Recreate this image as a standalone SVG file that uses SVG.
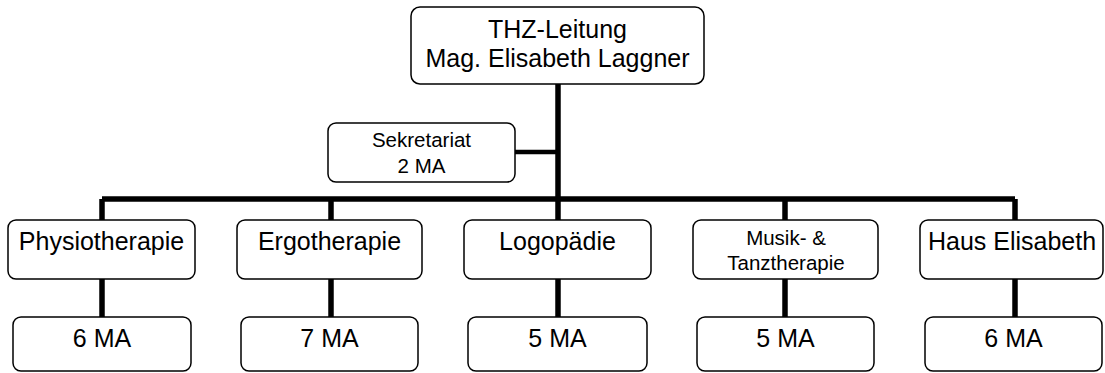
<svg xmlns="http://www.w3.org/2000/svg" width="1105" height="373" viewBox="0 0 1105 373">
<style>
.box{fill:#fff;stroke:#000;stroke-width:1.5}
.t{font-family:"Liberation Sans",Arial,sans-serif;font-size:25px;fill:#000;text-anchor:middle}
.s{font-size:20.5px}
.c{stroke:#000;stroke-width:5.5;fill:none}
</style>
<rect width="1105" height="373" fill="#fff"/>
<g id="connectors">
<line class="c" x1="558" y1="84" x2="558" y2="199"/>
<line class="c" x1="515" y1="152" x2="558" y2="152" style="stroke-width:4.5"/>
<line class="c" x1="102" y1="199" x2="1015" y2="199"/>
<line class="c" x1="102" y1="199" x2="102" y2="220"/>
<line class="c" x1="331" y1="199" x2="331" y2="220"/>
<line class="c" x1="558" y1="199" x2="558" y2="220"/>
<line class="c" x1="785" y1="199" x2="785" y2="220"/>
<line class="c" x1="1015" y1="199" x2="1015" y2="220"/>
<line class="c" x1="102" y1="279" x2="102" y2="317"/>
<line class="c" x1="331" y1="279" x2="331" y2="317"/>
<line class="c" x1="558" y1="279" x2="558" y2="317"/>
<line class="c" x1="785" y1="279" x2="785" y2="317"/>
<line class="c" x1="1015" y1="279" x2="1015" y2="317"/>
</g>
<g id="leitung"><rect class="box" x="411" y="7" width="293" height="77" rx="9"/><text class="t" x="557.5" y="38">THZ-Leitung</text><text class="t" x="557.5" y="67">Mag. Elisabeth Laggner</text></g>
<g id="sekretariat"><rect class="box" x="328" y="123" width="187" height="59" rx="8"/><text class="t s" x="421.5" y="147">Sekretariat</text><text class="t s" x="421.5" y="173">2 MA</text></g>
<g id="physio"><rect class="box" x="8" y="220" width="187" height="59" rx="8"/><text class="t" x="101.5" y="250">Physiotherapie</text></g>
<g id="ergo"><rect class="box" x="237" y="220" width="185" height="59" rx="8"/><text class="t" x="329.5" y="250">Ergotherapie</text></g>
<g id="logo"><rect class="box" x="464" y="220" width="187" height="59" rx="8"/><text class="t" x="557.5" y="250">Logopädie</text></g>
<g id="musik"><rect class="box" x="693" y="220" width="185" height="59" rx="8"/><text class="t s" x="786" y="245">Musik- &amp;</text><text class="t s" x="786" y="270">Tanztherapie</text></g>
<g id="haus"><rect class="box" x="920" y="220" width="183" height="59" rx="8"/><text class="t" x="1012" y="250">Haus Elisabeth</text></g>
<g id="physio-ma"><rect class="box" x="13" y="317" width="178" height="54" rx="8"/><text class="t" x="102" y="347">6 MA</text></g>
<g id="ergo-ma"><rect class="box" x="241" y="317" width="177" height="54" rx="8"/><text class="t" x="329.5" y="347">7 MA</text></g>
<g id="logo-ma"><rect class="box" x="468" y="317" width="179" height="54" rx="8"/><text class="t" x="557.5" y="347">5 MA</text></g>
<g id="musik-ma"><rect class="box" x="697" y="317" width="177" height="54" rx="8"/><text class="t" x="785.5" y="347">5 MA</text></g>
<g id="haus-ma"><rect class="box" x="925" y="317" width="177" height="54" rx="8"/><text class="t" x="1013.5" y="347">6 MA</text></g>
</svg>
